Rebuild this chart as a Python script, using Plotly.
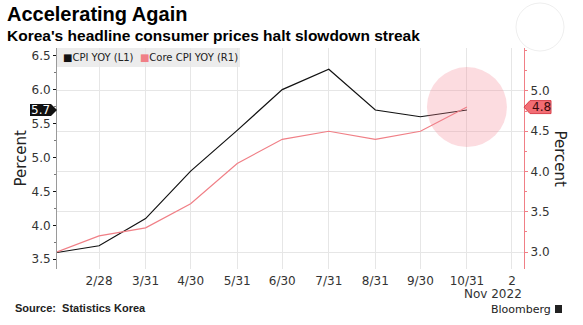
import plotly.graph_objects as go

# Monthly readings, 2022 (month-end dates)
dates = ["2022-01-31", "2022-02-28", "2022-03-31", "2022-04-30", "2022-05-31",
         "2022-06-30", "2022-07-31", "2022-08-31", "2022-09-30", "2022-10-31"]
cpi_yoy = [3.6, 3.7, 4.1, 4.8, 5.4, 6.0, 6.3, 5.7, 5.6, 5.7]
core_cpi_yoy = [3.0, 3.2, 3.3, 3.6, 4.1, 4.4, 4.5, 4.4, 4.5, 4.8]

x_tickvals = ["2022-02-28", "2022-03-31", "2022-04-30", "2022-05-31", "2022-06-30",
              "2022-07-31", "2022-08-31", "2022-09-30", "2022-10-31", "2022-11-30"]
x_ticktext = ["2/28", "3/31", "4/30", "5/31", "6/30", "7/31", "8/31", "9/30", "10/31", "2"]
left_ticks = [3.5, 4.0, 4.5, 5.0, 5.5, 6.0, 6.5]
right_ticks = [3.0, 3.5, 4.0, 4.5, 5.0]

BLACK = "#111111"
RED = "#f07f86"
TICK_FONT = dict(family="DejaVu Sans", size=12, color="#333333")

fig = go.Figure()
fig.add_trace(go.Scatter(x=dates, y=cpi_yoy, mode="lines", name="CPI YOY (L1)",
                         line=dict(color=BLACK, width=1.2), yaxis="y"))
fig.add_trace(go.Scatter(x=dates, y=core_cpi_yoy, mode="lines", name="Core CPI YOY (R1)",
                         line=dict(color=RED, width=1.2), yaxis="y2"))

fig.update_layout(
    width=583, height=325,
    margin=dict(l=57, r=59, t=48, b=56),
    paper_bgcolor="white", plot_bgcolor="white",
    showlegend=False,
    xaxis=dict(
        type="date", range=["2022-01-31", "2022-12-08"],
        tickvals=x_tickvals, ticktext=x_ticktext, tickfont=TICK_FONT,
        showgrid=True, gridcolor="#e6e6e6", gridwidth=1,
        showline=False, zeroline=False, ticks="", ticklabelstandoff=3,
    ),
    yaxis=dict(
        range=[3.357, 6.613], tickvals=left_ticks, ticktext=[f"{v:.1f}" for v in left_ticks],
        tickfont=TICK_FONT, showgrid=False, zeroline=False,
        showline=True, linecolor="#9a9a9a", linewidth=1,
        ticks="outside", ticklen=3, tickcolor=BLACK, tickwidth=1,
        minor=dict(dtick=0.25, tick0=3.5, ticks="outside", ticklen=2, tickcolor="#777777"),
    ),
    yaxis2=dict(
        range=[2.789, 5.534], overlaying="y", side="right", anchor="x",
        tickvals=right_ticks, ticktext=[f"{v:.1f}" for v in right_ticks],
        tickfont=TICK_FONT, showgrid=True, gridcolor="#e6e6e6", gridwidth=1,
        zeroline=False, showline=True, linecolor=RED, linewidth=1.2,
        ticks="outside", ticklen=3, tickcolor=RED, tickwidth=1,
        minor=dict(dtick=0.25, tick0=3.0, ticks="outside", ticklen=2, tickcolor=RED),
    ),
)

shapes = []
# Legend background
shapes.append(dict(type="rect", xref="paper", yref="paper", xsizemode="pixel", ysizemode="pixel",
                   xanchor=0, yanchor=1, x0=0, x1=183, y0=0, y1=-19,
                   fillcolor="#ececec", line=dict(width=0), layer="below"))
# Highlight around the latest reading
shapes.append(dict(type="circle", xref="x", yref="y2", xsizemode="pixel", ysizemode="pixel",
                   xanchor=dates[-1], yanchor=core_cpi_yoy[-1], x0=-40, x1=40, y0=-40, y1=40,
                   fillcolor="rgba(245,130,145,0.28)", line=dict(width=0)))
# Last-value tag, left axis
shapes.append(dict(type="path", xref="paper", yref="y", xsizemode="pixel", ysizemode="pixel",
                   xanchor=0, yanchor=cpi_yoy[-1],
                   path="M -27,-6 L -6,-6 L 0,0 L -6,6 L -27,6 Z",
                   fillcolor=BLACK, line=dict(width=0)))
# Last-value tag, right axis
shapes.append(dict(type="path", xref="paper", yref="y2", xsizemode="pixel", ysizemode="pixel",
                   xanchor=1, yanchor=core_cpi_yoy[-1],
                   path="M 0,0 L 6,-6.5 L 27,-6.5 L 27,6.5 L 6,6.5 Z",
                   fillcolor="#f26d74", line=dict(color="#d8434b", width=1)))
# Expand icon ring (top right)
shapes.append(dict(type="circle", xref="paper", yref="paper", xsizemode="pixel", ysizemode="pixel",
                   xanchor=1, yanchor=1, x0=-8, x1=40, y0=45, y1=-3,
                   fillcolor="rgba(0,0,0,0)", line=dict(color="rgba(0,0,0,0.07)", width=1)))
# Bloomberg mark
shapes.append(dict(type="rect", xref="paper", yref="paper", xsizemode="pixel", ysizemode="pixel",
                   xanchor=1, yanchor=0, x0=31, x1=38, y0=-36, y1=-44,
                   fillcolor="#222222", line=dict(width=0)))
fig.update_layout(shapes=shapes)

annotations = [
    dict(text="<b>Accelerating Again</b>", xref="paper", yref="paper", x=-57/467, y=1 + 48/221,
         xanchor="left", yanchor="middle", xshift=5, yshift=-14, showarrow=False,
         font=dict(family="Liberation Sans, Arial", size=20, color="#000000")),
    dict(text="<b>Korea's headline consumer prices halt slowdown streak</b>", xref="paper", yref="paper",
         x=-57/467, y=1 + 48/221, xanchor="left", yanchor="middle", xshift=5, yshift=-36,
         showarrow=False, font=dict(family="Liberation Sans, Arial", size=15.5, color="#000000")),
    dict(text=f"<span style='color:{BLACK}'>■</span>CPI YOY (L1)  <span style='color:{RED}'>■</span>Core CPI YOY (R1)",
         xref="paper", yref="paper", x=0, y=1, xanchor="left", yanchor="middle",
         xshift=4, yshift=-9.5, showarrow=False,
         font=dict(family="DejaVu Sans", size=10, color="#222222")),
    dict(text="Percent", xref="paper", yref="paper", x=0, y=0.5, xanchor="center", yanchor="middle",
         xshift=-37, textangle=-90, showarrow=False,
         font=dict(family="DejaVu Sans", size=15, color="#222222")),
    dict(text="Percent", xref="paper", yref="paper", x=1, y=0.5, xanchor="center", yanchor="middle",
         xshift=36, textangle=90, showarrow=False,
         font=dict(family="DejaVu Sans", size=15, color="#222222")),
    dict(text=f"{cpi_yoy[-1]:.1f}", xref="paper", yref="y", x=0, y=cpi_yoy[-1], xanchor="right",
         yanchor="middle", xshift=-5, showarrow=False,
         font=dict(family="DejaVu Sans", size=12, color="white")),
    dict(text=f"{core_cpi_yoy[-1]:.1f}", xref="paper", yref="y2", x=1, y=core_cpi_yoy[-1],
         xanchor="left", yanchor="middle", xshift=6, showarrow=False,
         font=dict(family="DejaVu Sans", size=12, color="#3a0a0c")),
    dict(text="Nov 2022", xref="x", yref="paper", x="2022-11-30", y=0, xanchor="right",
         yanchor="middle", xshift=12, yshift=-25, showarrow=False,
         font=dict(family="DejaVu Sans", size=12, color="#333333")),
    dict(text="<b>Source:  Statistics Korea</b>", xref="paper", yref="paper", x=-57/467, y=0,
         xanchor="left", yanchor="middle", xshift=13, yshift=-39, showarrow=False,
         font=dict(family="Liberation Sans, Arial", size=11, color="#222222")),
    dict(text="Bloomberg", xref="paper", yref="paper", x=1, y=0, xanchor="right", yanchor="middle",
         xshift=29, yshift=-40, showarrow=False,
         font=dict(family="DejaVu Sans", size=11, color="#222222")),
]
fig.update_layout(annotations=annotations)

fig.write_html("out.html")
